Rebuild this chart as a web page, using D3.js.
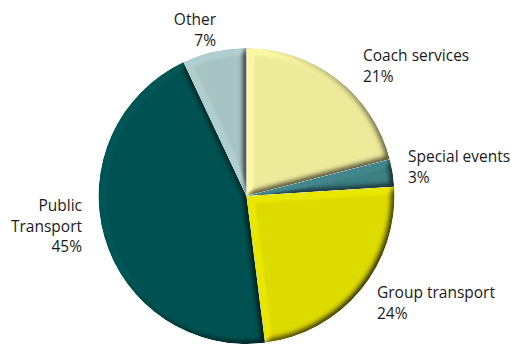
<!DOCTYPE html>
<html>
<head>
<meta charset="utf-8">
<script src="https://cdn.jsdelivr.net/npm/d3@7/dist/d3.min.js"></script>
<style>
  html, body { margin: 0; padding: 0; background: #fff; }
  svg { display: block; }
  text { font-family: "Open Sans", "Noto Sans", sans-serif; font-size: 15.5px; fill: #1a1a1a; }
</style>
</head>
<body>
<svg id="chart" width="514" height="344"></svg>
<script>
// Share of activity by segment (percent), clockwise from 12 o'clock
const categories = ["Coach services", "Special events", "Group transport", "Public Transport", "Other"];
const labelLines = [["Coach services"], ["Special events"], ["Group transport"], ["Public", "Transport"], ["Other"]];
const shares = [21, 3, 24, 45, 7];
const sliceColors = ["#eeeb9b", "#3d8084", "#dedb00", "#005252", "#a8c4c4"];

// Label layout: text anchor point (first baseline) and alignment
const labelLayout = [
  { x: 363, y: 61, anchor: "start" },
  { x: 408, y: 162, anchor: "start" },
  { x: 377, y: 298, anchor: "start" },
  { x: 82,  y: 211, anchor: "end" },
  { x: 216, y: 25,  anchor: "end" }
];

const width = 514, height = 344;
const cx = 246.5, cy = 196, radius = 148;
const lineHeight = 20.5;

const svg = d3.select("#chart");

// Soft bevel: blurred alpha used as a bump map, lit from the upper left.
// The light map is normalised so flat areas keep their colour; highlights are capped.
const elevation = 50;
const maxHighlight = 1.05;
const flat = Math.sin(elevation * Math.PI / 180);

const defs = svg.append("defs");
const f = defs.append("filter")
  .attr("id", "bevel")
  .attr("x", "-5%").attr("y", "-5%").attr("width", "110%").attr("height", "110%")
  .attr("color-interpolation-filters", "sRGB");
f.append("feGaussianBlur").attr("in", "SourceAlpha").attr("stdDeviation", 3.4).attr("result", "blur");
f.append("feDiffuseLighting")
  .attr("in", "blur").attr("surfaceScale", 3).attr("diffuseConstant", 1)
  .attr("lighting-color", "#ffffff").attr("result", "light")
  .append("feDistantLight").attr("azimuth", 215).attr("elevation", elevation);
const ct = f.append("feComponentTransfer").attr("in", "light").attr("result", "lightN");
["feFuncR", "feFuncG", "feFuncB"].forEach(fn =>
  ct.append(fn).attr("type", "linear").attr("slope", 1 / (flat * maxHighlight)).attr("intercept", 0));
f.append("feComposite")
  .attr("in", "SourceGraphic").attr("in2", "lightN")
  .attr("operator", "arithmetic")
  .attr("k1", maxHighlight).attr("k2", 0).attr("k3", 0).attr("k4", 0)
  .attr("result", "lit");
f.append("feComposite").attr("in", "lit").attr("in2", "SourceAlpha").attr("operator", "in");

const pie = d3.pie().sort(null).value(d => d)(shares);
const arc = d3.arc().innerRadius(0).outerRadius(radius);
const color = d3.scaleOrdinal().domain(categories).range(sliceColors);

const g = svg.append("g").attr("transform", `translate(${cx},${cy})`);
g.selectAll("path.slice")
  .data(pie)
  .join("path")
  .attr("class", "slice")
  .attr("d", arc)
  .attr("fill", (d, i) => color(categories[i]))
  .attr("filter", "url(#bevel)");

// Category labels with their percentage underneath
const labels = svg.append("g").selectAll("text")
  .data(pie)
  .join("text")
  .attr("x", (d, i) => labelLayout[i].x)
  .attr("y", (d, i) => labelLayout[i].y)
  .attr("text-anchor", (d, i) => labelLayout[i].anchor);

labels.each(function (d, i) {
  const t = d3.select(this);
  const lines = labelLines[i].concat([d3.format("d")(d.data) + "%"]);
  lines.forEach((line, k) => {
    t.append("tspan")
      .attr("x", labelLayout[i].x)
      .attr("dy", k === 0 ? 0 : lineHeight)
      .text(line);
  });
});
</script>
</body>
</html>
